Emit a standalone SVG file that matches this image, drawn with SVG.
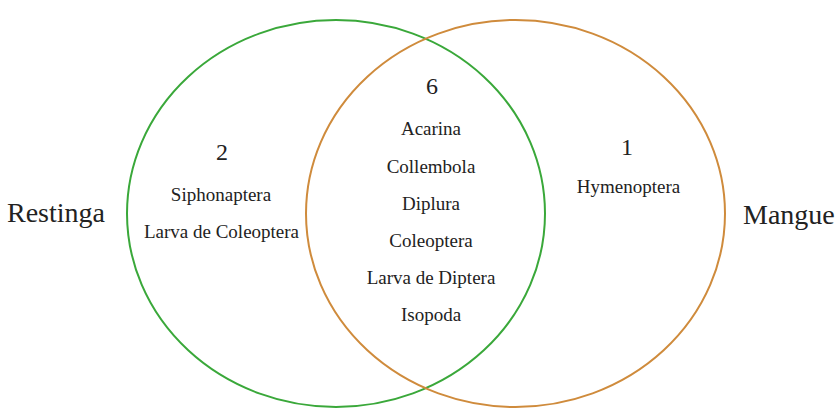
<svg xmlns="http://www.w3.org/2000/svg" width="835" height="409" viewBox="0 0 835 409">
<style>
text{font-family:'Liberation Serif','DejaVu Serif',serif;fill:#222;text-anchor:middle}
.lbl{font-size:28px;text-anchor:start}
.num{font-size:24px}
.it{font-size:19px}
.set{fill:none;stroke-width:2}
</style>
<rect width="835" height="409" fill="#fff"/>
<g id="restinga">
<ellipse class="set" cx="336" cy="213.5" rx="209" ry="193.5" stroke="#3aa83a"/>
<text class="lbl" x="7" y="222" font-family="Liberation Serif, serif">Restinga</text>
</g>
<g id="mangue">
<ellipse class="set" cx="515.5" cy="213.5" rx="209.5" ry="193.5" stroke="#cf8b3c"/>
<text class="lbl" x="743" y="224">Mangue</text>
</g>
<g id="only-restinga">
<text class="num" x="222" y="160">2</text>
<text class="it" x="221" y="201">Siphonaptera</text>
<text class="it" x="221.5" y="238">Larva de Coleoptera</text>
</g>
<g id="both">
<text class="num" x="432" y="94">6</text>
<text class="it" x="431" y="135">Acarina</text>
<text class="it" x="431" y="172.5">Collembola</text>
<text class="it" x="431" y="209.5">Diplura</text>
<text class="it" x="431" y="246.5">Coleoptera</text>
<text class="it" x="431" y="284">Larva de Diptera</text>
<text class="it" x="431" y="320.5">Isopoda</text>
</g>
<g id="only-mangue">
<text class="num" x="627" y="155">1</text>
<text class="it" x="628.5" y="193">Hymenoptera</text>
</g>
<g id="connectors"/>
</svg>
